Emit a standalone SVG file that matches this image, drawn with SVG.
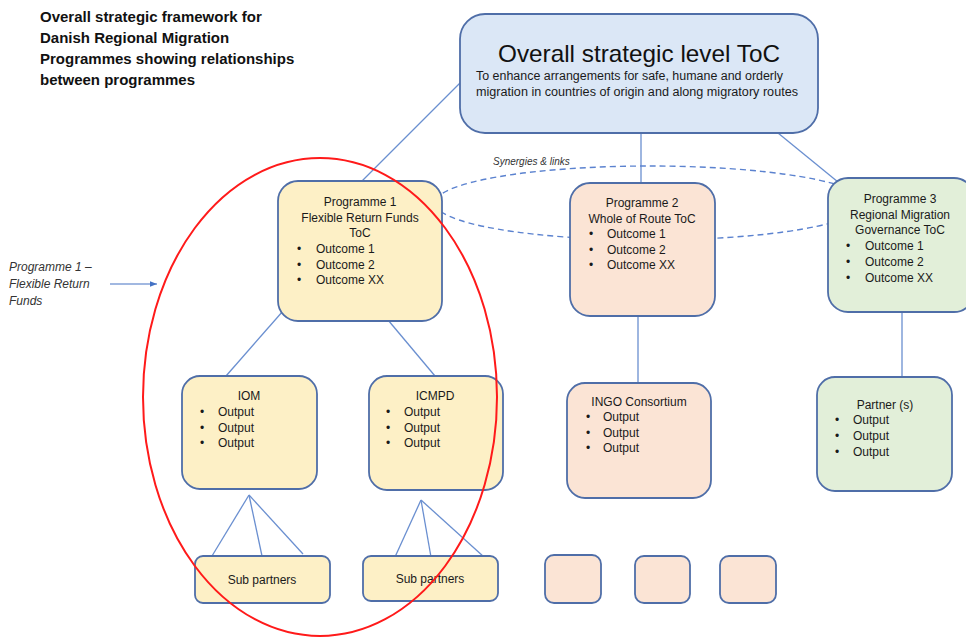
<svg xmlns="http://www.w3.org/2000/svg" width="966" height="637" viewBox="0 0 966 637">
<defs>
<style>
.box{stroke:#4f6ea8;stroke-width:1.8}
.blue{fill:#dbe7f6}.yel{fill:#fdf0c6}.pch{fill:#fbe4d5}.grn{fill:#e2efd9}
.t{font-family:"Liberation Sans",Arial,sans-serif;font-size:12px;fill:#1a1a1a}
.c{text-anchor:middle}
.ln{stroke:#6a8fd0;stroke-width:1.3;fill:none}
.title{font-family:"Liberation Sans",Arial,sans-serif;font-size:15px;font-weight:bold;fill:#111}
.it{font-family:"Liberation Sans",Arial,sans-serif;font-size:12px;font-style:italic;fill:#333}
</style>
<marker id="ah" viewBox="0 0 10 10" refX="10" refY="5" markerWidth="7" markerHeight="7" orient="auto" markerUnits="userSpaceOnUse"><path d="M0,1 L10,5 L0,9 z" fill="#4472c4"/></marker>
</defs>
<rect width="966" height="637" fill="#ffffff"/>

<g id="title">
<text class="title" x="40" y="22">Overall strategic framework for</text>
<text class="title" x="40" y="43">Danish Regional Migration</text>
<text class="title" x="40" y="64">Programmes showing relationships</text>
<text class="title" x="40" y="85">between programmes</text>
</g>

<g id="connectors">
<line class="ln" x1="461" y1="82" x2="362" y2="181"/>
<line class="ln" x1="641" y1="133" x2="641" y2="183"/>
<line class="ln" x1="778" y1="133" x2="838" y2="182"/>
<line class="ln" x1="283" y1="311" x2="226" y2="376"/>
<line class="ln" x1="388" y1="320" x2="435" y2="376"/>
<line class="ln" x1="638" y1="317" x2="638" y2="383"/>
<line class="ln" x1="902" y1="312" x2="902" y2="377"/>
<line class="ln" x1="249" y1="495" x2="212" y2="556"/>
<line class="ln" x1="249" y1="495" x2="262" y2="556"/>
<line class="ln" x1="249" y1="495" x2="303" y2="554"/>
<line class="ln" x1="421" y1="500" x2="395" y2="557"/>
<line class="ln" x1="421" y1="500" x2="431" y2="557"/>
<line class="ln" x1="421" y1="500" x2="484" y2="557"/>
<ellipse cx="650" cy="203" rx="215" ry="37" fill="none" stroke="#5b82cf" stroke-width="1.4" stroke-dasharray="6,4"/>
<line x1="110" y1="284" x2="157" y2="284" stroke="#4472c4" stroke-width="1.2" marker-end="url(#ah)"/>
</g>

<text class="it" x="493" y="165" style="font-size:10px">Synergies &amp; links</text>

<g id="top">
<rect class="box blue" x="460" y="14" width="358" height="119" rx="25"/>
<text x="639" y="62" text-anchor="middle" font-family="'Liberation Sans',Arial,sans-serif" font-size="24" fill="#111" textLength="282" lengthAdjust="spacingAndGlyphs">Overall strategic level ToC</text>
<text class="t" x="476" y="80" textLength="307" lengthAdjust="spacingAndGlyphs">To  enhance arrangements for safe, humane and orderly</text>
<text class="t" x="476" y="96" textLength="322" lengthAdjust="spacingAndGlyphs">migration in countries of origin and along migratory routes</text>
</g>

<g id="prog1">
<rect class="box yel" x="278" y="181" width="164" height="140" rx="20"/>
<text class="t c" x="360" y="206">Programme 1</text>
<text class="t c" x="360" y="222">Flexible Return Funds</text>
<text class="t c" x="360" y="237">ToC</text>
<text class="t" x="297" y="253">•</text><text class="t" x="316" y="253">Outcome 1</text>
<text class="t" x="297" y="269">•</text><text class="t" x="316" y="269">Outcome 2</text>
<text class="t" x="297" y="284">•</text><text class="t" x="316" y="284">Outcome XX</text>
</g>

<g id="prog2">
<rect class="box pch" x="570" y="183" width="145" height="133" rx="20"/>
<text class="t c" x="642" y="207">Programme 2</text>
<text class="t c" x="642" y="223">Whole of Route ToC</text>
<text class="t" x="589" y="238">•</text><text class="t" x="607" y="238">Outcome 1</text>
<text class="t" x="589" y="254">•</text><text class="t" x="607" y="254">Outcome 2</text>
<text class="t" x="589" y="269">•</text><text class="t" x="607" y="269">Outcome XX</text>
</g>

<g id="prog3">
<rect class="box grn" x="828" y="178" width="146" height="134" rx="20"/>
<text class="t c" x="900" y="203">Programme 3</text>
<text class="t c" x="900" y="219">Regional Migration</text>
<text class="t c" x="900" y="234">Governance ToC</text>
<text class="t" x="846" y="250">•</text><text class="t" x="865" y="250">Outcome 1</text>
<text class="t" x="846" y="266">•</text><text class="t" x="865" y="266">Outcome 2</text>
<text class="t" x="846" y="282">•</text><text class="t" x="865" y="282">Outcome XX</text>
</g>

<g id="iom">
<rect class="box yel" x="182" y="376" width="135" height="113" rx="18"/>
<text class="t c" x="249" y="400">IOM</text>
<text class="t" x="200" y="416">•</text><text class="t" x="218" y="416">Output</text>
<text class="t" x="200" y="432">•</text><text class="t" x="218" y="432">Output</text>
<text class="t" x="200" y="447">•</text><text class="t" x="218" y="447">Output</text>
</g>

<g id="icmpd">
<rect class="box yel" x="369" y="376" width="134" height="114" rx="18"/>
<text class="t c" x="435" y="400">ICMPD</text>
<text class="t" x="386" y="416">•</text><text class="t" x="404" y="416">Output</text>
<text class="t" x="386" y="432">•</text><text class="t" x="404" y="432">Output</text>
<text class="t" x="386" y="447">•</text><text class="t" x="404" y="447">Output</text>
</g>

<g id="ingo">
<rect class="box pch" x="567" y="383" width="144" height="115" rx="18"/>
<text class="t c" x="639" y="406">INGO Consortium</text>
<text class="t" x="586" y="421">•</text><text class="t" x="603" y="421">Output</text>
<text class="t" x="586" y="437">•</text><text class="t" x="603" y="437">Output</text>
<text class="t" x="586" y="452">•</text><text class="t" x="603" y="452">Output</text>
</g>

<g id="partner">
<rect class="box grn" x="817" y="377" width="135" height="114" rx="18"/>
<text class="t c" x="885" y="409">Partner (s)</text>
<text class="t" x="835" y="424">•</text><text class="t" x="853" y="424">Output</text>
<text class="t" x="835" y="440">•</text><text class="t" x="853" y="440">Output</text>
<text class="t" x="835" y="456">•</text><text class="t" x="853" y="456">Output</text>
</g>

<g id="sub1">
<rect class="box yel" x="195" y="556" width="135" height="47" rx="8"/>
<text class="t c" x="262" y="584">Sub partners</text>
</g>
<g id="sub2">
<rect class="box yel" x="363" y="556" width="135" height="45" rx="8"/>
<text class="t c" x="430" y="583">Sub partners</text>
</g>
<g id="sq1"><rect class="box pch" x="545" y="555" width="56" height="48" rx="9"/></g>
<g id="sq2"><rect class="box pch" x="635" y="556" width="55" height="47" rx="9"/></g>
<g id="sq3"><rect class="box pch" x="720" y="556" width="56" height="47" rx="9"/></g>

<g id="label">
<text class="it" x="9" y="271">Programme 1 –</text>
<text class="it" x="9" y="288">Flexible Return</text>
<text class="it" x="9" y="305">Funds</text>
</g>

<ellipse cx="320" cy="397" rx="177" ry="239" fill="none" stroke="#ff1a1a" stroke-width="2"/>
</svg>
